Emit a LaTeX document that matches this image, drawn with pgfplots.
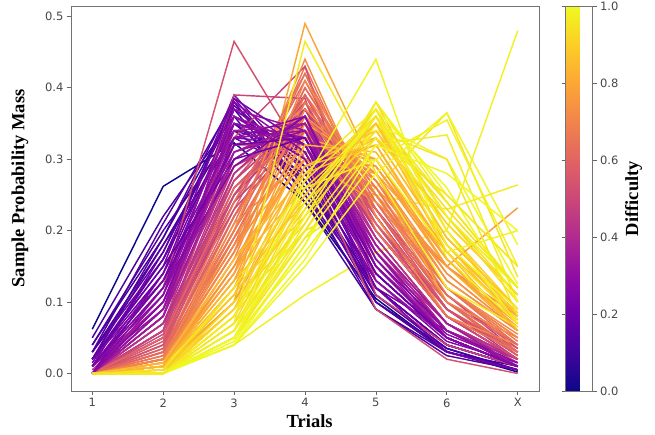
\documentclass[border=0pt]{standalone}
\usepackage{pgfplots}
\pgfplotsset{compat=1.18}
\usepackage{fontspec}
\setmainfont{Liberation Serif}
\newfontfamily\dejavu{DejaVu Sans}
\pgfplotsset{
  colormap={plasma}{
    rgb=(0.050383,0.029803,0.527975)
    rgb=(0.254627,0.013882,0.615419)
    rgb=(0.417642,0.000564,0.658390)
    rgb=(0.562738,0.051545,0.641509)
    rgb=(0.692840,0.165141,0.564522)
    rgb=(0.798216,0.280197,0.469538)
    rgb=(0.881443,0.392529,0.383229)
    rgb=(0.949217,0.517763,0.295662)
    rgb=(0.988260,0.652325,0.211364)
    rgb=(0.988648,0.809579,0.145357)
    rgb=(0.940015,0.975158,0.131326)
  }
}
\newcommand\Ln[8]{\addplot[color of colormap={#1 of plasma}, mark=none, line width=1.45pt] coordinates {(1,#2)(2,#3)(3,#4)(4,#5)(5,#6)(6,#7)(7,#8)};}
\begin{document}
\begin{tikzpicture}
\useasboundingbox (-71pt,-43pt) rectangle (584pt,391pt);
\begin{axis}[
  at={(0,0)}, anchor=south west,
  scale only axis, width=468pt, height=385pt,
  xmin=0.7, xmax=7.3, ymin=-0.0245, ymax=0.5145,
  xtick={1,2,3,4,5,6,7}, xticklabels={1,2,3,4,5,6,X},
  ytick={0,0.1,0.2,0.3,0.4,0.5},
  yticklabel style={/pgf/number format/.cd, fixed, fixed zerofill, precision=1},
  /pgf/number format/assume math mode=true,
  tick label style={font=\dejavu\fontsize{11.5}{12}\selectfont, text=black!72},
  tick align=outside, tick pos=left, major tick length=4pt,
  every tick/.style={black!60, line width=0.7pt},
  axis line style={black!55, line width=0.8pt},
  xlabel={Trials}, ylabel={Sample Probability Mass},
  every axis x label/.style={at={(axis description cs:0.51,0)}, yshift=-30pt, anchor=center, font=\bfseries\fontsize{18.5}{20}\selectfont},
  every axis y label/.style={at={(axis description cs:0,0.526)}, xshift=-51pt, rotate=90, anchor=center, font=\bfseries\fontsize{18.5}{20}\selectfont},
  colormap name=plasma,
  point meta min=0, point meta max=1,
  colorbar,
  colorbar style={
    at={(parent axis.north east)}, anchor=north west, xshift=18pt,
    scale only axis, width=27pt, height=385pt,
    ytick={0,0.2,0.4,0.6,0.8,1},
    yticklabel style={/pgf/number format/.cd, fixed, fixed zerofill, precision=1},
    /pgf/number format/assume math mode=true,
    tick label style={font=\dejavu\fontsize{11.5}{12}\selectfont, text=black!72},
    tick align=outside, major tick length=4pt,
    every tick/.style={black!60, line width=0.7pt},
    axis line style={black!55, line width=0.7pt},
    ylabel={Difficulty},
    every axis y label/.style={at={(axis description cs:1,0.5)}, xshift=41pt, rotate=90, anchor=center, font=\bfseries\fontsize{18.5}{20}\selectfont},
  },
]
% yellow group (part 1)
\Ln{820}{0.0}{0.01}{0.12}{0.34}{0.30}{0.16}{0.07}
\Ln{860}{0.0}{0.005}{0.10}{0.30}{0.33}{0.18}{0.085}
\Ln{900}{0.0}{0.0}{0.08}{0.27}{0.36}{0.20}{0.09}
\Ln{940}{0.0}{0.0}{0.06}{0.25}{0.37}{0.22}{0.10}
\Ln{980}{0.0}{0.0}{0.04}{0.11}{0.17}{0.20}{0.48}
\Ln{950}{0.0}{0.0}{0.05}{0.19}{0.26}{0.365}{0.135}
\Ln{965}{0.0}{0.0}{0.05}{0.20}{0.25}{0.23}{0.264}
\Ln{830}{0.0}{0.02}{0.18}{0.30}{0.29}{0.15}{0.06}
\Ln{870}{0.0}{0.01}{0.15}{0.26}{0.35}{0.17}{0.06}
\Ln{910}{0.0}{0.0}{0.12}{0.22}{0.38}{0.20}{0.08}
\Ln{945}{0.0}{0.0}{0.09}{0.20}{0.35}{0.24}{0.12}
\Ln{1000}{0.0}{0.0}{0.04}{0.18}{0.38}{0.25}{0.15}
\Ln{815}{0.0}{0.015}{0.14}{0.31}{0.30}{0.16}{0.07}
\Ln{855}{0.0}{0.01}{0.12}{0.27}{0.33}{0.18}{0.08}
\Ln{895}{0.0}{0.005}{0.10}{0.23}{0.34}{0.21}{0.11}
\Ln{935}{0.0}{0.0}{0.08}{0.22}{0.35}{0.23}{0.12}
\Ln{978}{0.0}{0.0}{0.05}{0.21}{0.38}{0.24}{0.12}
\Ln{1000}{0.0}{0.0}{0.045}{0.18}{0.35}{0.30}{0.125}
% orange group (part 1)
\Ln{560}{0.0}{0.04}{0.24}{0.38}{0.22}{0.09}{0.03}
\Ln{600}{0.0}{0.03}{0.23}{0.41}{0.22}{0.08}{0.03}
\Ln{640}{0.0}{0.025}{0.21}{0.42}{0.23}{0.09}{0.025}
\Ln{680}{0.0}{0.02}{0.18}{0.40}{0.25}{0.11}{0.04}
\Ln{720}{0.0}{0.015}{0.16}{0.39}{0.26}{0.12}{0.055}
\Ln{760}{0.0}{0.01}{0.14}{0.38}{0.27}{0.14}{0.06}
\Ln{770}{0.0}{0.01}{0.10}{0.28}{0.25}{0.15}{0.232}
\Ln{590}{0.0}{0.04}{0.28}{0.36}{0.20}{0.09}{0.03}
\Ln{690}{0.0}{0.02}{0.22}{0.35}{0.24}{0.12}{0.05}
\Ln{750}{0.0}{0.01}{0.19}{0.32}{0.26}{0.15}{0.07}
\Ln{570}{0.0}{0.035}{0.25}{0.37}{0.23}{0.09}{0.025}
\Ln{635}{0.0}{0.03}{0.19}{0.37}{0.25}{0.12}{0.04}
\Ln{710}{0.0}{0.02}{0.18}{0.34}{0.27}{0.13}{0.06}
\Ln{775}{0.0}{0.01}{0.15}{0.31}{0.29}{0.16}{0.07}
\Ln{655}{0.0}{0.025}{0.20}{0.43}{0.22}{0.09}{0.035}
% purple group (part 1)
\Ln{0}{0.062}{0.262}{0.323}{0.24}{0.105}{0.031}{0.002}
\Ln{120}{0.05}{0.22}{0.36}{0.24}{0.09}{0.03}{0.01}
\Ln{150}{0.03}{0.21}{0.38}{0.26}{0.09}{0.025}{0.005}
\Ln{180}{0.02}{0.19}{0.385}{0.27}{0.10}{0.03}{0.005}
\Ln{200}{0.01}{0.17}{0.37}{0.30}{0.11}{0.035}{0.005}
\Ln{220}{0.03}{0.16}{0.35}{0.29}{0.12}{0.04}{0.01}
\Ln{240}{0.02}{0.15}{0.39}{0.28}{0.11}{0.04}{0.01}
\Ln{250}{0.01}{0.14}{0.33}{0.32}{0.14}{0.05}{0.01}
\Ln{140}{0.04}{0.20}{0.34}{0.27}{0.11}{0.035}{0.005}
\Ln{170}{0.02}{0.18}{0.33}{0.28}{0.13}{0.05}{0.01}
\Ln{210}{0.015}{0.16}{0.38}{0.25}{0.12}{0.06}{0.015}
\Ln{160}{0.03}{0.17}{0.375}{0.29}{0.10}{0.03}{0.005}
\Ln{110}{0.04}{0.19}{0.37}{0.25}{0.10}{0.035}{0.005}
\Ln{130}{0.03}{0.18}{0.35}{0.27}{0.12}{0.04}{0.01}
\Ln{205}{0.02}{0.14}{0.36}{0.31}{0.12}{0.04}{0.01}
\Ln{245}{0.01}{0.12}{0.37}{0.30}{0.14}{0.05}{0.01}
\Ln{185}{0.02}{0.16}{0.34}{0.31}{0.12}{0.04}{0.01}
% pink group
\Ln{380}{0.0}{0.08}{0.33}{0.34}{0.17}{0.06}{0.02}
\Ln{400}{0.0}{0.07}{0.31}{0.35}{0.18}{0.07}{0.02}
\Ln{420}{0.0}{0.09}{0.29}{0.34}{0.19}{0.07}{0.02}
\Ln{440}{0.0}{0.06}{0.30}{0.36}{0.19}{0.07}{0.02}
\Ln{460}{0.0}{0.07}{0.27}{0.36}{0.20}{0.08}{0.02}
\Ln{480}{0.0}{0.05}{0.28}{0.37}{0.20}{0.08}{0.02}
\Ln{500}{0.0}{0.06}{0.26}{0.35}{0.21}{0.09}{0.03}
\Ln{520}{0.0}{0.05}{0.27}{0.38}{0.20}{0.08}{0.02}
\Ln{540}{0.0}{0.04}{0.25}{0.37}{0.22}{0.09}{0.03}
\Ln{530}{0.0}{0.12}{0.465}{0.30}{0.09}{0.02}{0.0}
\Ln{510}{0.0}{0.05}{0.33}{0.43}{0.13}{0.05}{0.01}
\Ln{490}{0.0}{0.06}{0.39}{0.385}{0.11}{0.04}{0.01}
\Ln{470}{0.0}{0.05}{0.24}{0.34}{0.23}{0.11}{0.03}
\Ln{430}{0.005}{0.10}{0.32}{0.32}{0.17}{0.07}{0.015}
\Ln{410}{0.0}{0.08}{0.35}{0.33}{0.16}{0.06}{0.02}
\Ln{450}{0.0}{0.07}{0.25}{0.35}{0.22}{0.09}{0.02}
\Ln{365}{0.0}{0.09}{0.32}{0.33}{0.18}{0.06}{0.02}
\Ln{395}{0.0}{0.08}{0.30}{0.36}{0.18}{0.06}{0.02}
\Ln{425}{0.0}{0.07}{0.28}{0.37}{0.19}{0.07}{0.02}
\Ln{455}{0.0}{0.06}{0.29}{0.35}{0.20}{0.08}{0.02}
\Ln{485}{0.0}{0.06}{0.27}{0.36}{0.21}{0.08}{0.02}
\Ln{515}{0.0}{0.05}{0.25}{0.39}{0.21}{0.08}{0.02}
\Ln{545}{0.0}{0.045}{0.26}{0.36}{0.22}{0.09}{0.025}
\Ln{505}{0.0}{0.055}{0.23}{0.34}{0.23}{0.11}{0.035}
% orange group (part 2)
\Ln{580}{0.0}{0.035}{0.22}{0.39}{0.23}{0.10}{0.025}
\Ln{620}{0.0}{0.03}{0.20}{0.40}{0.24}{0.10}{0.03}
\Ln{660}{0.0}{0.02}{0.19}{0.38}{0.26}{0.11}{0.04}
\Ln{700}{0.0}{0.02}{0.17}{0.37}{0.27}{0.12}{0.05}
\Ln{740}{0.0}{0.015}{0.15}{0.36}{0.28}{0.13}{0.06}
\Ln{780}{0.0}{0.01}{0.13}{0.35}{0.29}{0.15}{0.07}
\Ln{800}{0.0}{0.01}{0.10}{0.49}{0.28}{0.10}{0.03}
\Ln{725}{0.0}{0.02}{0.20}{0.44}{0.22}{0.08}{0.04}
\Ln{650}{0.0}{0.03}{0.24}{0.42}{0.20}{0.08}{0.03}
\Ln{610}{0.0}{0.05}{0.26}{0.34}{0.21}{0.10}{0.04}
\Ln{790}{0.0}{0.01}{0.16}{0.30}{0.28}{0.17}{0.08}
\Ln{730}{0.0}{0.02}{0.21}{0.30}{0.24}{0.15}{0.08}
\Ln{615}{0.0}{0.03}{0.22}{0.39}{0.23}{0.10}{0.03}
\Ln{670}{0.0}{0.02}{0.20}{0.36}{0.25}{0.12}{0.045}
\Ln{745}{0.0}{0.015}{0.17}{0.33}{0.28}{0.14}{0.06}
\Ln{795}{0.0}{0.01}{0.14}{0.33}{0.30}{0.15}{0.065}
\Ln{705}{0.0}{0.02}{0.17}{0.41}{0.25}{0.10}{0.05}
% purple group (part 2)
\Ln{260}{0.02}{0.13}{0.36}{0.30}{0.13}{0.045}{0.015}
\Ln{270}{0.01}{0.12}{0.34}{0.33}{0.14}{0.05}{0.01}
\Ln{280}{0.0}{0.11}{0.38}{0.31}{0.14}{0.05}{0.01}
\Ln{290}{0.01}{0.13}{0.31}{0.34}{0.15}{0.05}{0.01}
\Ln{300}{0.0}{0.10}{0.35}{0.33}{0.15}{0.055}{0.015}
\Ln{310}{0.01}{0.09}{0.37}{0.34}{0.13}{0.05}{0.01}
\Ln{320}{0.0}{0.11}{0.32}{0.35}{0.16}{0.05}{0.01}
\Ln{330}{0.0}{0.08}{0.36}{0.32}{0.17}{0.06}{0.01}
\Ln{340}{0.01}{0.10}{0.30}{0.36}{0.17}{0.05}{0.01}
\Ln{350}{0.0}{0.09}{0.34}{0.35}{0.15}{0.06}{0.01}
\Ln{230}{0.0}{0.14}{0.385}{0.32}{0.12}{0.03}{0.005}
\Ln{190}{0.02}{0.15}{0.30}{0.33}{0.14}{0.05}{0.01}
\Ln{265}{0.0}{0.12}{0.29}{0.36}{0.16}{0.06}{0.01}
\Ln{285}{0.01}{0.11}{0.35}{0.32}{0.15}{0.05}{0.01}
\Ln{315}{0.0}{0.09}{0.33}{0.34}{0.17}{0.06}{0.01}
\Ln{345}{0.0}{0.08}{0.31}{0.35}{0.18}{0.07}{0.01}
\Ln{225}{0.01}{0.13}{0.32}{0.33}{0.15}{0.05}{0.01}
\Ln{275}{0.0}{0.10}{0.33}{0.36}{0.15}{0.05}{0.01}
% yellow group (part 2)
\Ln{840}{0.0}{0.01}{0.11}{0.32}{0.31}{0.17}{0.08}
\Ln{880}{0.0}{0.005}{0.09}{0.29}{0.34}{0.19}{0.09}
\Ln{920}{0.0}{0.0}{0.07}{0.26}{0.35}{0.21}{0.11}
\Ln{960}{0.0}{0.0}{0.05}{0.23}{0.36}{0.24}{0.12}
\Ln{990}{0.0}{0.0}{0.06}{0.27}{0.44}{0.16}{0.07}
\Ln{970}{0.0}{0.0}{0.07}{0.465}{0.28}{0.12}{0.065}
\Ln{995}{0.0}{0.0}{0.04}{0.15}{0.28}{0.365}{0.18}
\Ln{985}{0.0}{0.0}{0.05}{0.17}{0.30}{0.355}{0.15}
\Ln{975}{0.0}{0.0}{0.06}{0.19}{0.32}{0.334}{0.10}
\Ln{955}{0.0}{0.0}{0.06}{0.22}{0.34}{0.30}{0.08}
\Ln{850}{0.0}{0.015}{0.16}{0.28}{0.32}{0.16}{0.06}
\Ln{890}{0.0}{0.01}{0.13}{0.24}{0.37}{0.18}{0.07}
\Ln{930}{0.0}{0.0}{0.10}{0.21}{0.36}{0.22}{0.11}
\Ln{1000}{0.0}{0.0}{0.05}{0.22}{0.37}{0.26}{0.10}
\Ln{992}{0.0}{0.01}{0.11}{0.25}{0.36}{0.20}{0.07}
\Ln{982}{0.0}{0.0}{0.08}{0.26}{0.30}{0.17}{0.20}
\Ln{835}{0.0}{0.01}{0.13}{0.29}{0.32}{0.17}{0.075}
\Ln{875}{0.0}{0.005}{0.11}{0.25}{0.35}{0.19}{0.09}
\Ln{915}{0.0}{0.0}{0.09}{0.24}{0.33}{0.22}{0.12}
\Ln{958}{0.0}{0.0}{0.07}{0.20}{0.33}{0.25}{0.15}
\Ln{998}{0.0}{0.0}{0.04}{0.16}{0.32}{0.28}{0.20}
\Ln{988}{0.0}{0.0}{0.06}{0.24}{0.36}{0.22}{0.12}
\Ln{968}{0.0}{0.0}{0.08}{0.28}{0.37}{0.18}{0.09}
\Ln{948}{0.0}{0.005}{0.12}{0.27}{0.36}{0.17}{0.075}
\end{axis}
\end{tikzpicture}
\end{document}
